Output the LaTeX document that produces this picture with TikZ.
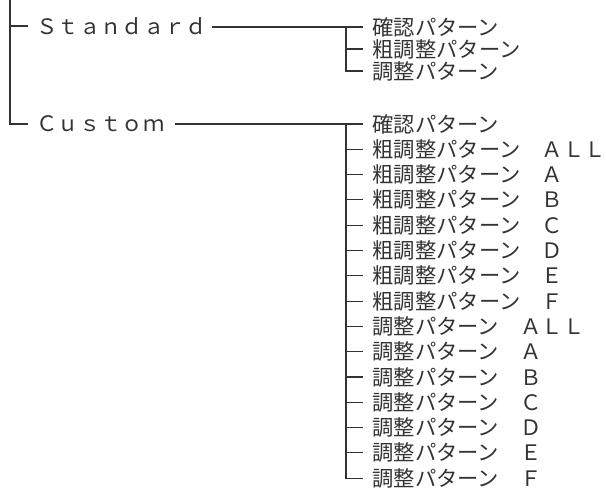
\documentclass[tikz,border=0pt]{standalone}
\usepackage{fontspec}
\setmainfont{Noto Sans CJK JP}
\definecolor{ink}{HTML}{333333}
\begin{document}
\begin{tikzpicture}[x=1pt,y=-1pt,line width=1.1pt,draw=ink,
  lbl/.style={anchor=west,inner sep=0pt,text=ink,font=\fontsize{21.3}{21.3}\selectfont},
  tree/.style={draw=ink,line width=1.1pt}]
\useasboundingbox (0,0) rectangle (606,489);
% top level
\coordinate (top) at (10,0);
\node[lbl] (std) at (36,26) {Ｓｔａｎｄａｒｄ};
\node[lbl] (cus) at (36,124) {Ｃｕｓｔｏｍ};
\draw[tree] (top) |- ([xshift=-8pt]cus.west);
\draw[tree] (top |- std.west) -- ([xshift=-8pt]std.west);
% Standard children
\node[lbl] (s1) at (372,27) {確認パターン};
\node[lbl] (s2) at (372,49) {粗調整パターン};
\node[lbl] (s3) at (372,71) {調整パターン};
\coordinate (sb) at (346,27);
\coordinate (sl) at (212,27);
\draw[tree] (sl) -- ([xshift=-9pt]s1.west);
\draw[tree] (sb) |- ([xshift=-9pt]s3.west);
\draw[tree] (sb |- s2.west) -- ([xshift=-9pt]s2.west);
% Custom children
\coordinate (cb) at (346,124);
\coordinate (cl) at (175,124);
\foreach \t [count=\i from 0] in {確認パターン,粗調整パターン　ＡＬＬ,粗調整パターン　Ａ,粗調整パターン　Ｂ,粗調整パターン　Ｃ,粗調整パターン　Ｄ,粗調整パターン　Ｅ,粗調整パターン　Ｆ,調整パターン　ＡＬＬ,調整パターン　Ａ,調整パターン　Ｂ,調整パターン　Ｃ,調整パターン　Ｄ,調整パターン　Ｅ,調整パターン　Ｆ}{
  \node[lbl] (c\i) at (372,{124+25.3*\i}) {\t};
}
\draw[tree] (cl) -- ([xshift=-9pt]c0.west);
\draw[tree] (cb) |- ([xshift=-9pt]c14.west);
\foreach \i in {1,...,13}{
  \draw[tree] (cb |- c\i.west) -- ([xshift=-9pt]c\i.west);
}
\end{tikzpicture}
\end{document}
